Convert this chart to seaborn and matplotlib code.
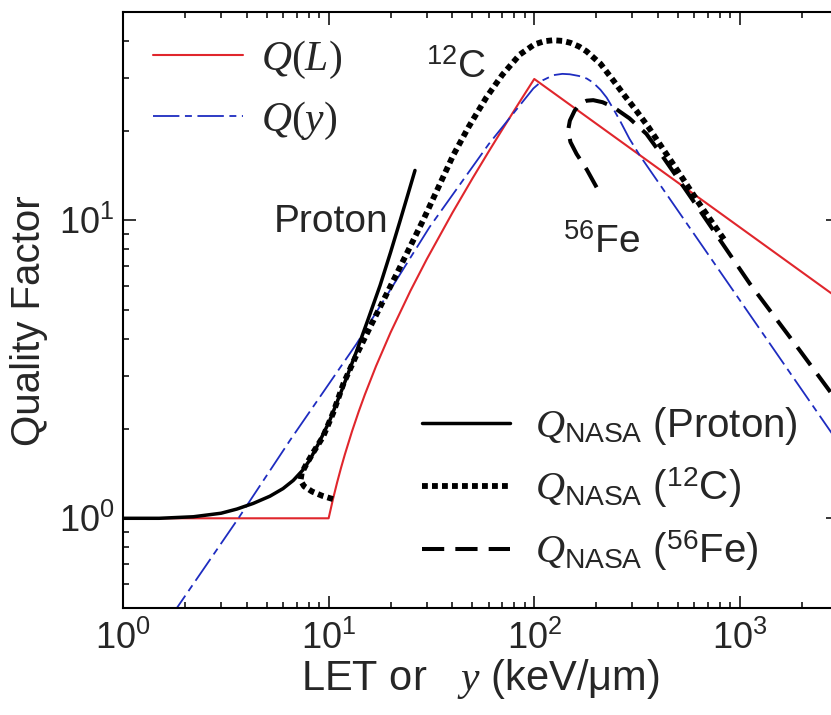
import matplotlib
matplotlib.use("Agg")
import matplotlib.pyplot as plt
import seaborn as sns
import pandas as pd
from matplotlib.ticker import NullFormatter, LogLocator

# ---------------- data ----------------
# ICRP Q(L)
let_QL = [1, 10, 10.5, 11, 11.5, 12, 13, 14, 15, 17, 20, 25, 30, 40, 50, 60, 70, 85, 100, 3000]
q_QL = [1.0, 1.0, 1.16, 1.32, 1.48, 1.64, 1.96, 2.28, 2.6, 3.24, 4.2, 5.8, 7.4, 10.6, 13.8, 17.0, 20.2, 25.0, 29.8, 5.48]

# Q(y)
y_Qy = [1.7, 3.64, 6.5, 13.7, 31, 60, 99, 110, 124, 137, 149, 165, 180, 193, 210, 225, 242, 261, 290, 326, 3000]
q_Qy = [0.465, 1.0, 1.83, 3.86, 9.5, 18.0, 27.7, 29.5, 30.7, 31.0, 30.9, 30.5, 29.9, 29.0, 27.4, 25.8, 23.7, 21.6, 18.8, 16.5, 1.80]

# Q_NASA proton
let_p = [1, 1.5, 2.2, 3.0, 3.58, 4.3, 5.18, 6.0, 6.73, 7.5, 8.1, 9.0, 10.1, 11.8, 13.7, 15.5, 17.8, 20.0, 22.2, 24.2, 26.3]
q_p = [1.0, 1.0, 1.012, 1.04, 1.074, 1.122, 1.186, 1.258, 1.34, 1.453, 1.57, 1.80, 2.12, 2.78, 3.65, 4.62, 6.05, 7.8, 9.9, 12.1, 14.7]

# Q_NASA 12C
let_c = [10.5, 9.3, 8.3, 7.6, 7.3, 7.4, 7.8, 8.4, 9.4, 10.5, 11.8, 13.7, 15.9, 18.5, 21.4, 25, 28.8, 34, 40.3, 48,
         58.6, 70, 85.1, 100, 112, 123.6, 137, 150, 165, 179.6, 210, 242, 275, 314, 360, 408, 500, 638, 850]
q_c = [1.16, 1.19, 1.23, 1.28, 1.34, 1.42, 1.52, 1.66, 1.88, 2.25, 2.83, 3.55, 4.38, 5.4, 6.6, 8.2, 10.0, 12.8, 16.5, 20.6,
       25.9, 30.8, 36.0, 38.9, 39.9, 40.2, 40.0, 39.4, 38.3, 36.9, 33.5, 29.5, 26.2, 23.3, 20.5, 18.0, 14.6, 11.3, 8.5]

# Q_NASA 56Fe
let_fe = [201, 180, 160.6, 150, 146, 149, 157, 167, 180, 193.6, 215, 242, 290, 351, 408, 500, 638, 1117, 1955, 3000]
q_fe = [12.9, 14.8, 16.7, 18.3, 20.0, 21.6, 23.3, 24.6, 25.2, 25.3, 24.9, 24.0, 22.0, 19.5, 16.9, 13.8, 10.8, 6.13, 3.66, 2.45]

x_ticks = [1, 10, 100, 1000]
y_ticks = [1, 10]

# ---------------- style ----------------
sns.set_style("ticks")
plt.rcParams["font.family"] = ["Liberation Sans", "DejaVu Sans"]
plt.rcParams["mathtext.fontset"] = "custom"
plt.rcParams["mathtext.rm"] = "Liberation Serif"
plt.rcParams["mathtext.it"] = "Liberation Serif:italic"
plt.rcParams["mathtext.sf"] = "Liberation Sans"
plt.rcParams["lines.scale_dashes"] = False

RED = "#e0262c"
BLUE = "#1e2cc0"

fig = plt.figure(figsize=(8.31, 7.15), dpi=100)
ax = fig.add_axes([123 / 831, 107 / 715, 715 / 831, 596 / 715])

def draw(x, y, **kw):
    df = pd.DataFrame({"x": x, "y": y})
    sns.lineplot(data=df, x="x", y="y", ax=ax, sort=False, estimator=None, **kw)

draw(let_QL, q_QL, color=RED, linewidth=1.5, linestyle="-")
draw(y_Qy, q_Qy, color=BLUE, linewidth=1.3, linestyle=(0, (19, 4, 5, 4)))
draw(let_p, q_p, color="black", linewidth=2.5, linestyle="-")
draw(let_c, q_c, color="black", linewidth=4.2, linestyle=(0, (4.2, 3.0)))
draw(let_fe, q_fe, color="black", linewidth=2.9, linestyle=(0, (16, 8)))

lines = ax.get_lines()

ax.set_xscale("log")
ax.set_yscale("log")
ax.set_xlim(1, 3000)
ax.set_ylim(0.5, 50)
ax.set_xticks(x_ticks)
ax.set_yticks(y_ticks)
ax.xaxis.set_minor_locator(LogLocator(base=10, subs=range(2, 10)))
ax.yaxis.set_minor_locator(LogLocator(base=10, subs=range(2, 10)))
ax.xaxis.set_minor_formatter(NullFormatter())
ax.yaxis.set_minor_formatter(NullFormatter())

ax.tick_params(which="both", direction="in", top=True, right=True, width=1.3)
ax.tick_params(which="major", length=9, labelsize=26)
ax.tick_params(which="minor", length=4.5)
ax.tick_params(axis="x", which="major", pad=9)
ax.tick_params(axis="y", which="major", pad=6)
for s in ax.spines.values():
    s.set_linewidth(1.5)
    s.set_color("black")

ax.set_xlabel("LET or   $y$ (keV/μm)", fontsize=30, labelpad=0)
ax.set_ylabel("Quality Factor", fontsize=29)
ax.yaxis.set_label_coords(-0.105, 0.482)

# annotations
ax.text(0.291, 0.631, "Proton", transform=ax.transAxes, fontsize=28, ha="center", va="baseline")
ax.text(0.466, 0.889, r"$^{\mathsf{12}}$C", transform=ax.transAxes, fontsize=28, ha="center", va="baseline")
ax.text(0.670, 0.596, r"$^{\mathsf{56}}$Fe", transform=ax.transAxes, fontsize=28, ha="center", va="baseline")

# legends
leg1 = ax.legend([lines[0], lines[1]], [r"$Q(L)$", r"$Q(y)$"], loc="upper left",
                 bbox_to_anchor=(0.042, 0.955), frameon=False, fontsize=30,
                 handlelength=2.16, handletextpad=0.42, labelspacing=0.45,
                 borderpad=0, borderaxespad=0)
ax.add_artist(leg1)
ax.legend([lines[2], lines[3], lines[4]],
          [r"$Q_{\mathsf{NASA}}$ (Proton)", r"$Q_{\mathsf{NASA}}$ ($^{\mathsf{12}}$C)",
           r"$Q_{\mathsf{NASA}}$ ($^{\mathsf{56}}$Fe)"],
          loc="lower left", bbox_to_anchor=(0.418, 0.058), frameon=False, fontsize=29,
          handlelength=2.18, handletextpad=0.62, labelspacing=0.45,
          borderpad=0, borderaxespad=0)

fig.savefig("out.png", dpi=100)
